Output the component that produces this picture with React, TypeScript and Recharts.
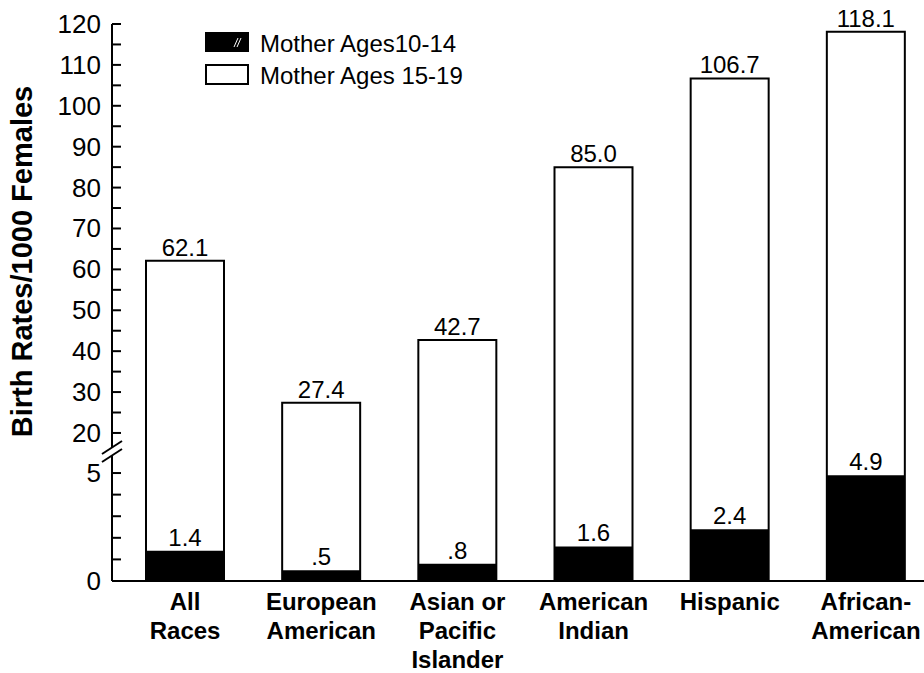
import React from 'react';
import { BarChart, Bar, XAxis, YAxis, LabelList, Legend } from 'recharts';

const categories = [
  'All\nRaces',
  'European\nAmerican',
  'Asian or\nPacific\nIslander',
  'American\nIndian',
  'Hispanic',
  'African-\nAmerican',
];
const ages10to14 = [1.4, 0.5, 0.8, 1.6, 2.4, 4.9];
const ages15to19 = [62.1, 27.4, 42.7, 85.0, 106.7, 118.1];

// y axis ticks (broken axis: 0-5 below the break, 20-120 above)
const lowerTicks = [0, 1, 2, 3, 4, 5];
const lowerLabels = [0, 5];
const upperTicks = [20, 25, 30, 35, 40, 45, 50, 55, 60, 65, 70, 75, 80, 85, 90, 95, 100, 105, 110, 115, 120];
const upperLabels = [20, 30, 40, 50, 60, 70, 80, 90, 100, 110, 120];

const FONT = '"Liberation Sans", Arial, Helvetica, sans-serif';

// map a real value onto the stretched axis
const LOW_MAX = 5;
const HIGH_MIN = 20;
const LOW_STRETCH = 5.28;
const GAP = 9.8;
const toAxis = (v: number) =>
  v <= LOW_MAX ? v * LOW_STRETCH : LOW_MAX * LOW_STRETCH + GAP + (v - HIGH_MIN);
const AXIS_MAX = toAxis(120);
const BREAK_AT = LOW_MAX * LOW_STRETCH + GAP * 0.55;

const key = (t: number) => t.toFixed(3);
const tickLabels = new Map<string, string>();
lowerLabels.forEach((v) => tickLabels.set(key(toAxis(v)), String(v)));
upperLabels.forEach((v) => tickLabels.set(key(toAxis(v)), String(v)));
const yTicks = [...lowerTicks.map(toAxis), BREAK_AT, ...upperTicks.map(toAxis)];

const fmt = (v: number) => v.toFixed(1).replace(/^0/, '');

const data = categories.map((name, i) => ({
  name,
  young: toAxis(ages10to14[i]),
  older: toAxis(ages15to19[i]),
  youngLabel: fmt(ages10to14[i]),
  olderLabel: fmt(ages15to19[i]),
}));

const YTick = ({ x, y, payload }: any) => {
  const t = payload.value;
  if (Math.abs(t - BREAK_AT) < 1e-6) {
    return (
      <g>
        <polygon points={`${x - 10},${y + 3} ${x + 10},${y - 10} ${x + 10},${y - 2} ${x - 10},${y + 11}`} fill="#fff" />
        <line x1={x - 10} y1={y + 3} x2={x + 10} y2={y - 10} stroke="#000" strokeWidth={2} />
        <line x1={x - 10} y1={y + 11} x2={x + 10} y2={y - 2} stroke="#000" strokeWidth={2} />
      </g>
    );
  }
  const label = tickLabels.get(key(t));
  return (
    <g>
      <line x1={x} x2={x + 9} y1={y} y2={y} stroke="#000" strokeWidth={2} />
      {label && (
        <text x={x - 11} y={y} textAnchor="end" dominantBaseline="central" fontSize={26} fontFamily={FONT} fill="#000">
          {label}
        </text>
      )}
    </g>
  );
};

const XTick = ({ x, y, payload }: any) => {
  const lines = String(payload.value).split('\n');
  return (
    <text x={x} y={y} textAnchor="middle" fontSize={24} fontWeight="bold" fontFamily={FONT} fill="#000">
      {lines.map((line, i) => (
        <tspan key={i} x={x} dy={29}>
          {line}
        </tspan>
      ))}
    </text>
  );
};

const YTitle = ({ viewBox }: any) => {
  const cx = 22;
  const cy = viewBox.y + viewBox.height / 2 - 41;
  return (
    <text
      x={cx}
      y={cy}
      transform={`rotate(-90, ${cx}, ${cy})`}
      textAnchor="middle"
      dominantBaseline="central"
      fontSize={29}
      fontWeight="bold"
      fontFamily={FONT}
      fill="#000"
    >
      Birth Rates/1000 Females
    </text>
  );
};

const renderLegend = () => (
  <svg width={300} height={70} style={{ display: 'block' }}>
    <rect x={0} y={4} width={44} height={20} fill="#000" />
    <line x1={29} y1={19} x2={33} y2={10} stroke="#fff" strokeWidth={1} />
    <line x1={32} y1={19} x2={36} y2={10} stroke="#fff" strokeWidth={1} />
    <text x={55} y={15} dominantBaseline="central" fontSize={24} fontFamily={FONT} fill="#000">
      Mother Ages10-14
    </text>
    <rect x={1} y={37} width={42} height={19} fill="#fff" stroke="#000" strokeWidth={2} />
    <text x={55} y={47} dominantBaseline="central" fontSize={24} fontFamily={FONT} fill="#000">
      Mother Ages 15-19
    </text>
  </svg>
);

export default function App() {
  return (
    <div style={{ position: 'absolute', left: 0, top: 0, width: 924, height: 673, overflow: 'hidden', background: '#fff' }}>
      <BarChart
        width={934}
        height={673}
        data={data}
        margin={{ top: 24, right: 0, bottom: 0, left: 0 }}
        barSize={78}
        barGap={-78}
      >
        <XAxis
          dataKey="name"
          height={92}
          tick={<XTick />}
          tickLine={false}
          tickSize={0}
          tickMargin={0}
          interval={0}
          padding={{ left: 5, right: 0 }}
          axisLine={{ stroke: '#000', strokeWidth: 2 }}
        />
        <YAxis
          type="number"
          width={112}
          domain={[0, AXIS_MAX]}
          ticks={yTicks}
          interval={0}
          tick={<YTick />}
          tickLine={false}
          tickSize={0}
          tickMargin={0}
          axisLine={{ stroke: '#000', strokeWidth: 2 }}
          label={{ content: <YTitle /> }}
        />
        <Legend
          layout="vertical"
          align="center"
          verticalAlign="middle"
          content={renderLegend}
          wrapperStyle={{ left: 205, top: 28, width: 300, height: 70 }}
        />
        <Bar dataKey="older" name="Mother Ages 15-19" fill="#fff" stroke="#000" strokeWidth={2} isAnimationActive={false}>
          <LabelList dataKey="olderLabel" position="top" offset={5} fontSize={24} fontFamily={FONT} fill="#000" />
        </Bar>
        <Bar dataKey="young" name="Mother Ages10-14" fill="#000" isAnimationActive={false}>
          <LabelList dataKey="youngLabel" position="top" offset={5} fontSize={24} fontFamily={FONT} fill="#000" />
        </Bar>
      </BarChart>
    </div>
  );
}
